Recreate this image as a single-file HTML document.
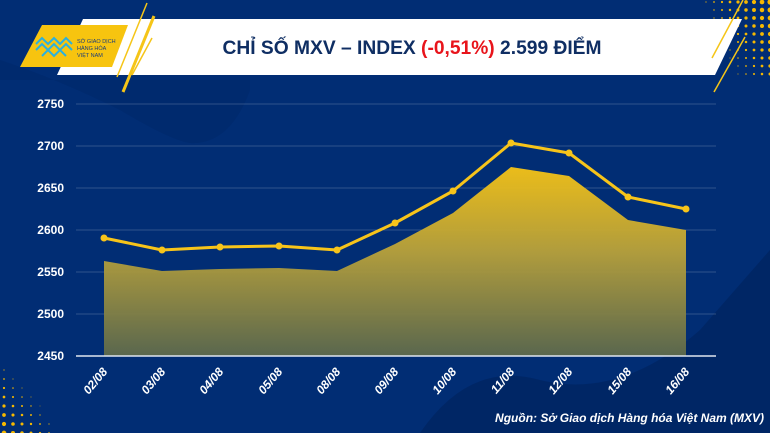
<!DOCTYPE html>
<html><head><meta charset="utf-8"><style>
html,body{margin:0;padding:0;width:770px;height:433px;overflow:hidden;background:#002d73;font-family:"Liberation Sans",sans-serif}
</style></head><body>
<svg id="s" width="770" height="433" viewBox="0 0 770 433" xmlns="http://www.w3.org/2000/svg">
<defs>
<linearGradient id="ar" x1="0" y1="0" x2="0" y2="1">
<stop offset="0" stop-color="#f7c415"/><stop offset="0.45" stop-color="#b9a23a"/><stop offset="1" stop-color="#5e6a4c"/></linearGradient>
</defs>
<rect width="770" height="433" fill="#012d74"/>
<path d="M0 60 Q60 80 120 110 Q170 140 190 143 Q230 145 250 90 L250 80 L0 80Z" fill="#00286a" opacity="0.6"/>
<path d="M420 433 Q470 360 540 380 Q620 400 700 330 L770 250 L770 433Z" fill="#00245f" opacity="0.7"/>
<g id="dots" fill="#f5b800"></g>
<polygon points="83,19 742,19 715,75 57,75" fill="#fff"/>
<polygon points="42,25 128,25 112,67 20,67" fill="#f7c40f"/>
<line x1="117" y1="77" x2="147" y2="3" stroke="#f5c518" stroke-width="1.5"/>
<line x1="123" y1="92" x2="154" y2="16" stroke="#f5c518" stroke-width="3"/>
<line x1="132" y1="75" x2="152" y2="38" stroke="#f5c518" stroke-width="1.5"/>
<line x1="712" y1="58" x2="743" y2="0" stroke="#f5c518" stroke-width="1.5"/>
<line x1="714" y1="92" x2="745" y2="37" stroke="#f5c518" stroke-width="1.5"/>
<g fill="none" stroke="#2ab0e0" stroke-width="2">
<path d="M36 44 l6 -6 l6 6 l6 -6 l6 6 l6 -6 l6 6 M36 50 l6 -6 l6 6 l6 -6 l6 6 l6 -6 l6 6 M42 56 l6 -6 l6 6 l6 -6 l6 6"/>
</g>
<text x="77" y="43" font-size="5.5" fill="#1a3d7a">SỞ GIAO DỊCH</text>
<text x="77" y="50" font-size="5.5" fill="#1a3d7a">HÀNG HÓA</text>
<text x="77" y="57" font-size="5.5" fill="#1a3d7a">VIỆT NAM</text>
<text x="412" y="54" font-size="19" font-weight="bold" fill="#0f2e63" text-anchor="middle" textLength="379" lengthAdjust="spacingAndGlyphs">CHỈ SỐ MXV – INDEX <tspan fill="#e8141b">(-0,51%)</tspan> 2.599 ĐIỂM</text>
<g stroke="#ffffff" stroke-opacity="0.18" stroke-width="1">
<line x1="76" y1="104" x2="716" y2="104"/><line x1="76" y1="146" x2="716" y2="146"/><line x1="76" y1="188" x2="716" y2="188"/>
<line x1="76" y1="230" x2="716" y2="230"/><line x1="76" y1="272" x2="716" y2="272"/><line x1="76" y1="314" x2="716" y2="314"/>
</g>
<g font-size="12" font-weight="bold" fill="#fff" text-anchor="end">
<text x="64" y="108">2750</text><text x="64" y="150">2700</text><text x="64" y="192">2650</text>
<text x="64" y="234">2600</text><text x="64" y="276">2550</text><text x="64" y="318">2500</text><text x="64" y="360">2450</text>
</g>
<polygon points="104,261 162,271 220,269 279,268 337,271 395,244 453,213 511,167 569,176 628,220 686,230 686,356 104,356" fill="url(#ar)" opacity="0.95"/>
<line x1="76" y1="356" x2="716" y2="356" stroke="#e0e6f0" stroke-width="1.5"/>
<polyline points="104,238 162,250 220,247 279,246 337,250 395,223 453,191 511,143 569,153 628,197 686,209" fill="none" stroke="#f7c41a" stroke-width="3" stroke-linejoin="round"/>
<g fill="#f7c41a">
<circle cx="104" cy="238" r="3.5"/><circle cx="162" cy="250" r="3.5"/><circle cx="220" cy="247" r="3.5"/><circle cx="279" cy="246" r="3.5"/><circle cx="337" cy="250" r="3.5"/><circle cx="395" cy="223" r="3.5"/><circle cx="453" cy="191" r="3.5"/><circle cx="511" cy="143" r="3.5"/><circle cx="569" cy="153" r="3.5"/><circle cx="628" cy="197" r="3.5"/><circle cx="686" cy="209" r="3.5"/>
</g>
<g font-size="12" font-weight="bold" font-style="italic" fill="#fff" text-anchor="end">
<text transform="translate(108,372) rotate(-50)">02/08</text>
<text transform="translate(166,372) rotate(-50)">03/08</text>
<text transform="translate(224,372) rotate(-50)">04/08</text>
<text transform="translate(283,372) rotate(-50)">05/08</text>
<text transform="translate(341,372) rotate(-50)">08/08</text>
<text transform="translate(399,372) rotate(-50)">09/08</text>
<text transform="translate(457,372) rotate(-50)">10/08</text>
<text transform="translate(515,372) rotate(-50)">11/08</text>
<text transform="translate(573,372) rotate(-50)">12/08</text>
<text transform="translate(632,372) rotate(-50)">15/08</text>
<text transform="translate(690,372) rotate(-50)">16/08</text>
</g>
<text x="764" y="422" font-size="12" font-weight="bold" font-style="italic" fill="#fff" text-anchor="end">Nguồn: Sở Giao dịch Hàng hóa Việt Nam (MXV)</text>
</svg>
<script>
var g=document.getElementById('dots'),ns='http://www.w3.org/2000/svg',h='';
for(var r=0;r<10;r++)for(var c=0;c<12;c++){var x=770-c*8,y=2+r*8;var rad=2.6-c*0.25-r*0.12;if(rad<0.5)continue;h+='<circle cx="'+x+'" cy="'+y+'" r="'+rad.toFixed(2)+'"/>';}
for(var r=0;r<8;r++)for(var c=0;c<6;c++){var x=4+c*9,y=370+r*9;var rad=0.6+r*0.25-c*0.3;if(rad<0.4)continue;h+='<circle cx="'+x+'" cy="'+y+'" r="'+rad.toFixed(2)+'"/>';}
g.innerHTML=h;
</script>
</body></html>
